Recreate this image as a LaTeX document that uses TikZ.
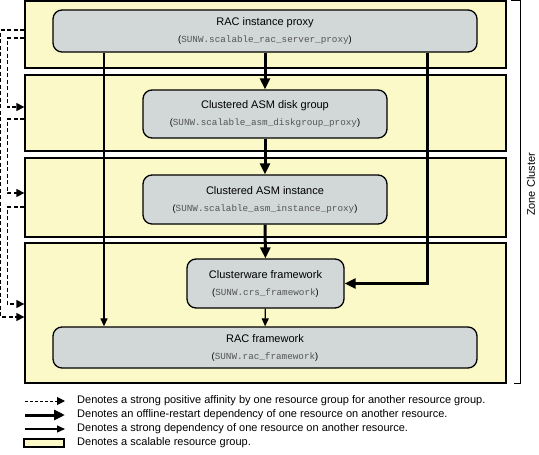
\documentclass[tikz,border=0pt]{standalone}
\usepackage{fontspec}
\setmainfont{Liberation Sans}
\setmonofont{Liberation Mono}
\usetikzlibrary{positioning, arrows.meta}
\definecolor{grouppale}{RGB}{251,249,200}
\definecolor{nodegray}{RGB}{210,215,215}
\definecolor{namegray}{RGB}{85,85,85}
\newcommand{\rtype}[1]{{\fontsize{9.3}{17}\selectfont(\textcolor{namegray}{\ttfamily #1})}}
\tikzset{
  rgroup/.style={
    draw=black, line width=1.3pt, fill=grouppale, inner sep=0pt
  },
  resource/.style={
    draw=black, line width=1.3pt, fill=nodegray, rounded corners=9pt,
    align=center, font=\fontsize{11}{17}\selectfont, inner sep=0pt
  },
  affinity/.style={-{Triangle[length=8pt,width=8pt]}, line width=1.3pt, dash pattern=on 4pt off 2.5pt},
  restart/.style={-{Triangle[length=11pt,width=10pt]}, line width=3pt},
  strongdep/.style={-{Triangle[length=8pt,width=7pt]}, line width=1.2pt},
  legendtext/.style={anchor=west, font=\fontsize{11}{13}\selectfont, inner sep=0pt}
}

\begin{document}
\begin{tikzpicture}[x=1pt, y=-1pt]
  \useasboundingbox (0,0) rectangle (539,455);

  % scalable resource groups
  \node[rgroup, minimum width=481pt, minimum height=67pt] (g1) at (265.5,34.5) {};
  \node[rgroup, minimum width=481pt, minimum height=76pt] (g2) at (265.5,113) {};
  \node[rgroup, minimum width=481pt, minimum height=79pt] (g3) at (265.5,197.5) {};
  \node[rgroup, minimum width=481pt, minimum height=140pt] (g4) at (265.5,313) {};

  % resources
  \node[resource, minimum width=424pt, minimum height=42pt] (n1) at (265,31) {RAC instance proxy\\\rtype{SUNW.scalable\_rac\_server\_proxy}};
  \node[resource, minimum width=244pt, minimum height=48pt] (n2) at (265,114) {Clustered ASM disk group\\\rtype{SUNW.scalable\_asm\_diskgroup\_proxy}};
  \node[resource, minimum width=244pt, minimum height=49pt] (n3) at (265,199.5) {Clustered ASM instance\\\rtype{SUNW.scalable\_asm\_instance\_proxy}};
  \node[resource, minimum width=157pt, minimum height=49pt] (n4) at (265.5,283.5) {Clusterware framework\\\rtype{SUNW.crs\_framework}};
  \node[resource, minimum width=424pt, minimum height=41pt] (n5) at (265,347.5) {RAC framework\\\rtype{SUNW.rac\_framework}};

  \coordinate (crsbus) at (427,0);
  \coordinate (racbus) at (104,0);

  % dependencies
  \draw[restart] (n1) -- (n2);
  \draw[restart] (n2) -- (n3);
  \draw[restart] (n3) -- (n4);
  \draw[restart] (n1.south -| crsbus) |- (n4.east);
  \draw[strongdep] (n1.south -| racbus) -- (n5.north -| racbus);
  \draw[strongdep] (n4) -- (n5);

  % affinities
  \draw[affinity] ([yshift=4.5pt]g1.west) -- ++(-23.5,0) |- ([yshift=-4pt]g4.west);
  \draw[affinity] ([yshift=-3.5pt]g1.west) -- ++(-17,0) |- ([yshift=6pt]g2.west);
  \draw[affinity] ([yshift=-6pt]g2.west) -- ++(-17,0) |- ([yshift=4.5pt]g3.west);
  \draw[affinity] ([yshift=-9.5pt]g3.west) -- ++(-17,0) |- ([yshift=9pt]g4.west);

  % zone cluster
  \draw[line width=1.2pt] ([xshift=4pt]g1.north east) -| ([xshift=14pt]g4.south east) -- ([xshift=7pt]g4.south east);
  \node[rotate=90, font=\fontsize{11}{13}\selectfont] (zc) at (531,184.5) {Zone Cluster};

  % legend
  \node[legendtext] (l1) at (77,401) {Denotes a strong positive affinity by one resource group for another resource group.};
  \node[legendtext] (l2) at (77,415) {Denotes an offline-restart dependency of one resource on another resource.};
  \node[legendtext] (l3) at (77,429) {Denotes a strong dependency of one resource on another resource.};
  \node[legendtext] (l4) at (77,443) {Denotes a scalable resource group.};
  \coordinate (a1) at (25,401);
  \coordinate (a2) at (25,415);
  \coordinate (a3) at (25,429);
  \draw[affinity, line width=1pt, dash pattern=on 3pt off 2pt] (a1) -- ([xshift=-12pt]l1.west);
  \draw[restart] (a2) -- ([xshift=-12pt]l2.west);
  \draw[strongdep] (a3) -- ([xshift=-12pt]l3.west);
  \node[rgroup, line width=1.2pt, minimum width=40pt, minimum height=8pt] (lbox) at (44,443) {};
\end{tikzpicture}
\end{document}
